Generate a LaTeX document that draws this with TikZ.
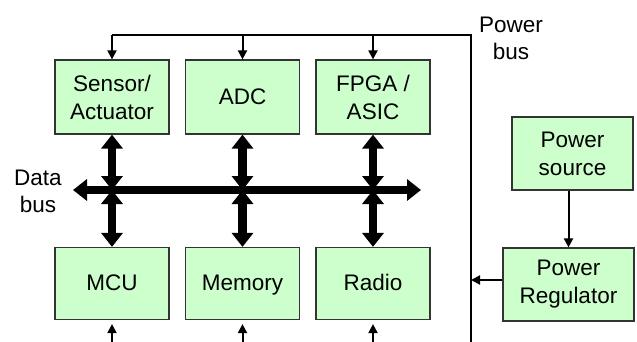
\documentclass[tikz,border=0pt]{standalone}
\usepackage{fontspec}
\setmainfont{Liberation Sans}
\usetikzlibrary{arrows.meta}
\definecolor{boxfill}{HTML}{CCFFCC}
\definecolor{boxline}{HTML}{333333}
\begin{document}
\begin{tikzpicture}[x=0.5pt,y=-0.5pt,
  blk/.style={draw=boxline,line width=0.6pt,fill=boxfill,align=center,inner sep=0pt,
    font=\fontsize{11.25}{14}\selectfont},
  oneline/.style={text height=7.4pt,text depth=0pt},
  lbl/.style={align=center,inner sep=0pt,font=\fontsize{11.25}{13.5}\selectfont},
  thin/.style={line width=1pt,-{Triangle[length=4.5pt,width=4.5pt]}},
  pline/.style={line width=1.2pt},
  thick/.style={line width=4.3pt,{Triangle[length=7pt,width=10.5pt]}-{Triangle[length=7pt,width=10.5pt]}}]
\useasboundingbox (0,0) rectangle (637,342);
% blocks
\node[blk,minimum width=57pt,minimum height=37pt] (sen) at (112,97) {Sensor/\\Actuator};
\node[blk,oneline,minimum width=57pt,minimum height=37pt] (adc) at (242.5,97) {ADC};
\node[blk,minimum width=57pt,minimum height=37pt] (fpga) at (373,97) {FPGA /\\ASIC};
\node[blk,oneline,minimum width=57pt,minimum height=36pt] (mcu) at (112,283.5) {MCU};
\node[blk,oneline,minimum width=57pt,minimum height=36pt] (mem) at (242.5,283.5) {Memory};
\node[blk,oneline,minimum width=57pt,minimum height=36pt] (rad) at (373,283.5) {Radio};
\node[blk,minimum width=60.5pt,minimum height=36.5pt] (src) at (572.5,153.5) {Power\\source};
\node[blk,minimum width=65.5pt,minimum height=36.5pt] (reg) at (568.5,284.5) {Power\\Regulator};
% labels
\node[lbl] (pbl) at (511,38.5) {Power\\bus};
\node[lbl] (dbl) at (38,191) {Data\\bus};
% power bus
\coordinate (pbT) at (471,35);
\coordinate (pbB) at (471,342);
\coordinate (pbL) at (112,35);
\draw[pline] (pbB) -- (pbT) -- (pbL);
\draw[thin] (pbL) -- (sen.north);
\draw[thin] (adc.north |- pbT) -- (adc.north);
\draw[thin] (fpga.north |- pbT) -- (fpga.north);
\coordinate (bot) at (0,342);
\draw[thin] (mcu.south |- bot) -- ([yshift=-2pt]mcu.south);
\draw[thin] (mem.south |- bot) -- ([yshift=-2pt]mem.south);
\draw[thin] (rad.south |- bot) -- ([yshift=-2pt]rad.south);
\draw[thin] (reg.north |- src.south) -- (reg.north);
\coordinate (rj) at (471,280);
\draw[thin] (reg.west |- rj) -- (rj);
% data bus
\coordinate (dbL) at (73,190);
\coordinate (dbR) at (421,190);
\draw[thick] (dbL) -- (dbR);
\foreach \a/\b in {sen/mcu,adc/mem,fpga/rad}{
  \coordinate (j\a) at (\a.south |- dbL);
  \draw[thick] (\a.south) -- (j\a);
  \draw[thick] (j\a) -- (\b.north);
}
\end{tikzpicture}
\end{document}
